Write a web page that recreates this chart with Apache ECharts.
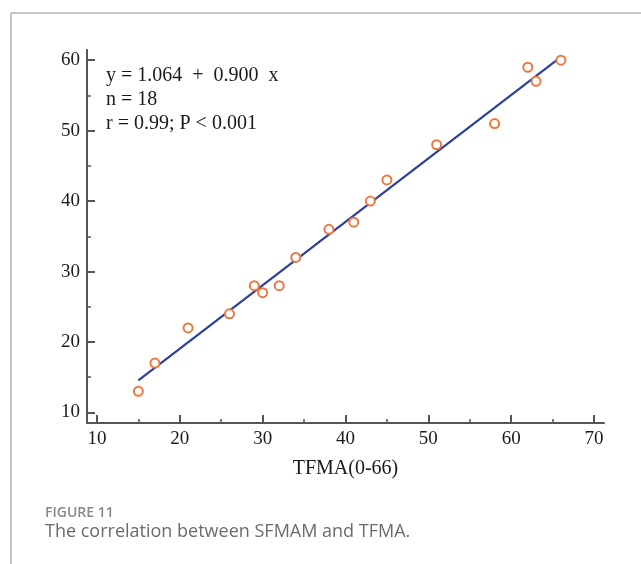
<!DOCTYPE html>
<html>
<head>
<meta charset="utf-8">
<script src="https://cdn.jsdelivr.net/npm/echarts@6/dist/echarts.min.js"></script>
<style>
html,body{margin:0;padding:0;background:#fff;}
#chart{width:641px;height:564px;}
</style>
</head>
<body>
<div id="chart"></div>
<script>
// Data (TFMA vs SFMAM)
var tfma  = [15, 17, 21, 26, 29, 30, 32, 34, 38, 41, 43, 45, 51, 58, 62, 63, 66];
var sfmam = [13, 17, 22, 24, 28, 27, 28, 32, 36, 37, 40, 43, 48, 51, 59, 57, 60];
var xMajorTicks = [10, 20, 30, 40, 50, 60, 70];
var xMinorTicks = [15, 25, 35, 45, 55, 65];
var yMajorTicks = [10, 20, 30, 40, 50, 60];
var yMinorTicks = [15, 25, 35, 45, 55];
var intercept = 1.064;
var slope = 0.900;
var fitRange = [15, 65.5];
var statLines = ['y = 1.064  +  0.900  x', 'n = 18', 'r = 0.99; P < 0.001'];
var xName = 'TFMA(0-66)';
var figLabel = 'FIGURE 11';
var figCaption = 'The correlation between SFMAM and TFMA.';

var points = tfma.map(function (x, i) { return [x, sfmam[i]]; });
var fitLine = fitRange.map(function (x) { return [x, intercept + slope * x]; });

var axisColor = '#555555';
var serif = '"Liberation Serif", "Times New Roman", serif';

var chart = echarts.init(document.getElementById('chart'), null, {renderer: 'canvas'});

function xAxisDef(majors, minors, showLine, showLabel, len) {
  return {
    type: 'value', position: 'bottom', min: 8.8, max: 71.2,
    splitLine: {show: false},
    axisLine: {show: showLine, onZero: false, lineStyle: {color: axisColor, width: 2}},
    axisTick: {show: true, inside: true, length: len, customValues: majors || minors,
      lineStyle: {color: axisColor, width: majors ? 2 : 1.5}},
    axisLabel: {show: showLabel, customValues: majors || [], margin: 7,
      color: '#1a1a1a', fontFamily: serif, fontSize: 19},
    name: showLabel ? xName : '', nameLocation: 'middle', nameGap: 36,
    nameTextStyle: {color: '#1a1a1a', fontFamily: serif, fontSize: 20}
  };
}
function yAxisDef(majors, minors, showLine, showLabel, len) {
  return {
    type: 'value', position: 'left', min: 8.5, max: 61.45,
    splitLine: {show: false},
    axisLine: {show: showLine, onZero: false, lineStyle: {color: axisColor, width: 2}},
    axisTick: {show: true, inside: true, length: len, customValues: majors || minors,
      lineStyle: {color: axisColor, width: majors ? 2 : 1.5}},
    axisLabel: {show: showLabel, customValues: majors || [], margin: 7,
      color: '#1a1a1a', fontFamily: serif, fontSize: 19}
  };
}

var option = {
  backgroundColor: '#ffffff',
  animation: false,
  grid: {left: 87, right: 37, top: 50, bottom: 141, containLabel: false},
  xAxis: [
    xAxisDef(xMajorTicks, null, true, true, 8),
    xAxisDef(null, xMinorTicks, false, false, 4)
  ],
  yAxis: [
    yAxisDef(yMajorTicks, null, true, true, 8),
    yAxisDef(null, yMinorTicks, false, false, 4)
  ],
  series: [
    {
      type: 'line', data: fitLine, xAxisIndex: 0, yAxisIndex: 0,
      symbol: 'none', lineStyle: {color: '#2c409c', width: 2.2}, z: 2
    },
    {
      type: 'scatter', data: points, xAxisIndex: 0, yAxisIndex: 0,
      symbol: 'emptyCircle', symbolSize: 9,
      itemStyle: {color: '#f07840', borderColor: '#f07840', borderWidth: 1.2, opacity: 1}, z: 3
    }
  ],
  graphic: [
    {type: 'line', shape: {x1: 11, y1: 13, x2: 641, y2: 13}, style: {stroke: '#b3b3b3', lineWidth: 1.5}},
    {type: 'line', shape: {x1: 11, y1: 13, x2: 11, y2: 564}, style: {stroke: '#b3b3b3', lineWidth: 1.5}},
    {type: 'text', left: 106, top: 66, style: {text: statLines[0], fill: '#1a1a1a', font: '20px ' + serif}},
    {type: 'text', left: 106, top: 90, style: {text: statLines[1], fill: '#1a1a1a', font: '20px ' + serif}},
    {type: 'text', left: 106, top: 114, style: {text: statLines[2], fill: '#1a1a1a', font: '20px ' + serif}},
    {type: 'text', left: 45, top: 506, style: {text: figLabel, fill: '#888888', font: '600 14px "Open Sans", sans-serif'}},
    {type: 'text', left: 45, top: 523, style: {text: figCaption, fill: '#6b6b6b', font: '18px "Open Sans", sans-serif'}}
  ]
};
chart.setOption(option);
</script>
</body>
</html>
